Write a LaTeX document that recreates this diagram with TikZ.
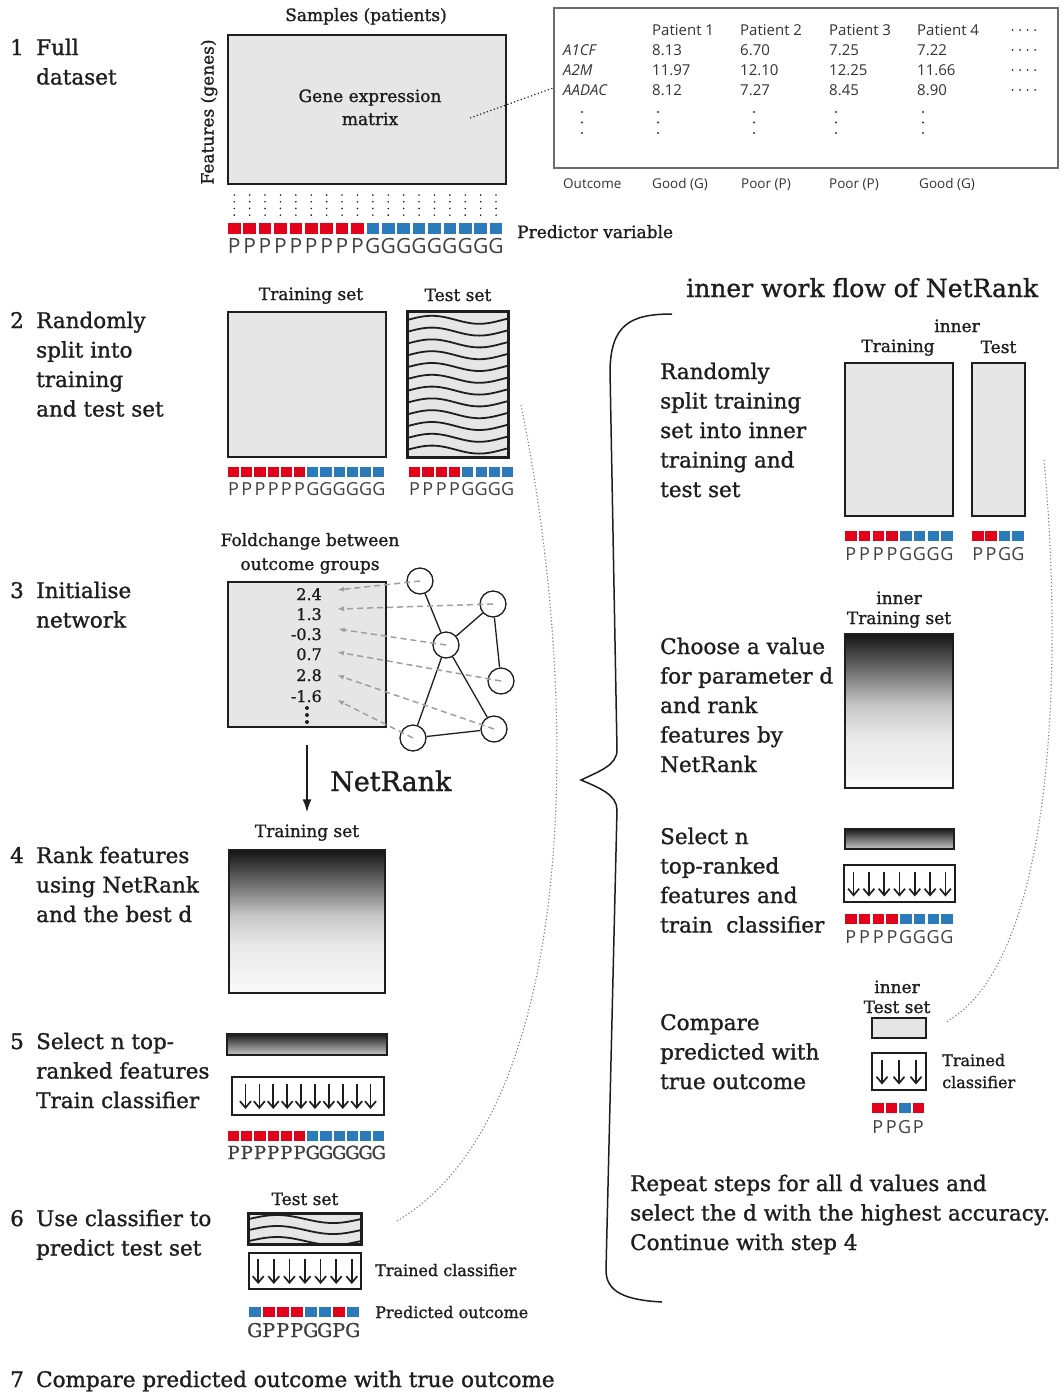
\documentclass[tikz,border=0pt]{standalone}
\usepackage{fontspec}
\setmainfont{DejaVu Serif}[FakeBold=1.2]
\newfontfamily\sansf{Open Sans}
\usetikzlibrary{arrows.meta}

\definecolor{pred}{HTML}{E2001A}
\definecolor{pblue}{HTML}{2B7BBA}
\definecolor{boxgray}{HTML}{E6E6E6}
\definecolor{inkc}{HTML}{1E1E1E}
\definecolor{tabgray}{HTML}{333333}
\colorlet{colR}{pred}
\colorlet{colB}{pblue}

% dark-at-top ranking gradients (path spans 25bp..75bp)
\pgfdeclareverticalshading{rankshade}{100bp}{color(0bp)=(black!2); color(25bp)=(black!2); color(42bp)=(black!9); color(52bp)=(black!22); color(61bp)=(black!50); color(75bp)=(black!92); color(100bp)=(black!92)}
\pgfdeclareverticalshading{barshade}{100bp}{color(0bp)=(black!22); color(25bp)=(black!22); color(50bp)=(black!55); color(75bp)=(black!90); color(100bp)=(black!90)}

\newcommand{\lns}[1]{\begin{tabular}[t]{@{}l@{}}#1\end{tabular}}
\newcommand{\clns}[1]{\begin{tabular}[t]{@{}c@{}}#1\end{tabular}}

% row of outcome squares with their letters
% #1 prefix, #2 x0, #3 y of squares, #4 pitch, #5 size, #6 letter baseline, #7 font, #8 list colour/letter
\newcommand{\outrow}[8]{%
  \foreach \sqc/\sql [count=\i from 0] in {#8} {
    \fill[col\sqc] ({#2+\i*#4},#3) rectangle ++(#5,{0.9*#5});
    \node[font={#7}, text=inkc!85, anchor=base, inner sep=0] (#1\i) at ({#2+\i*#4+#5/2},#6) {\sql};
  }}

% down arrows of a trained classifier: #1 centre x, #2 centre y, #3 count, #4 pitch
\newcommand{\clsarrows}[4]{%
  \foreach \i in {1,...,#3}
    \draw[clsarrow] ({#1+(\i-(#3+1)/2)*#4},{#2-12.5}) -- ({#1+(\i-(#3+1)/2)*#4},{#2+12.5});
}

% horizontal row of dots: #1 x0, #2 y, #3 count, #4 pitch, #5 radius
\newcommand{\dotrow}[5]{%
  \foreach \i in {1,...,#3} \fill[tabgray] ({#1+(\i-1)*#4},#2) circle (#5);
}

\begin{document}
\begin{tikzpicture}[x=1pt,y=-1pt,
  steptext/.style={anchor=base west, inner sep=0, text=inkc, font=\fontsize{21.5}{29.5}\selectfont},
  lbl/.style={anchor=base, inner sep=0, text=inkc, font=\fontsize{17}{23}\selectfont},
  lbll/.style={anchor=base west, inner sep=0, text=inkc, font=\fontsize{16}{22}\selectfont},
  tabtxt/.style={anchor=base west, inner sep=0, text=tabgray, font=\sansf\fontsize{15}{15}\selectfont},
  outtxt/.style={anchor=base west, inner sep=0, text=tabgray, font=\sansf\fontsize{13.5}{13.5}\selectfont},
  fcnum/.style={anchor=base east, inner sep=0, text=inkc, font=\fontsize{16}{16}\selectfont},
  graybox/.style={draw=inkc, line width=1.8, fill=boxgray, inner sep=0},
  clsbox/.style={draw=inkc, line width=1.8, fill=white, inner sep=0},
  gradbox/.style={draw=inkc, line width=1.8, shading=rankshade, inner sep=0},
  barbox/.style={draw=inkc, line width=1.8, shading=barshade, inner sep=0},
  clsarrow/.style={draw=inkc, line width=1.7, -{Straight Barb[length=6.5pt,width=11pt]}},
  netnode/.style={circle, draw=inkc, line width=1.3, minimum size=26, inner sep=0},
  netedge/.style={draw=inkc, line width=1.3},
  fcarrow/.style={draw=gray!75, line width=1.5, dash pattern=on 6pt off 4pt, -{Latex[length=7pt,width=5pt]}},
  linkdots/.style={draw=gray, line width=1.1, dash pattern=on 1.2pt off 2.2pt},
  wave/.style={draw=inkc, line width=1.8}
]
\fill[white] (0,0) rectangle (1063,1393);
\useasboundingbox (0,0) rectangle (1063,1393);

% ---------------- step 1: full dataset ----------------
\node[steptext] (num1) at (10,55) {1};
\node[steptext] (st1) at (36,55) {\lns{Full\\dataset}};
\node[lbl] (lsamp) at (366,21) {Samples (patients)};
\node[graybox, minimum width=278, minimum height=149] (mat) at (367,109.5) {};
\node[lbl] (lmat) at (370,102) {\clns{Gene expression\\matrix}};
\node[lbl, rotate=90, anchor=center] (lfeat) at (209,112) {Features (genes)};
\foreach \i in {0,...,17} \foreach \j in {0,...,3}
  \fill[inkc] ({234.25+\i*15.4},{195+\j*6.7}) circle (0.9);
\outrow{o1-}{228}{223}{15.4}{12.5}{253}{\sansf\fontsize{21}{21}\selectfont}{R/P,R/P,R/P,R/P,R/P,R/P,R/P,R/P,R/P,B/G,B/G,B/G,B/G,B/G,B/G,B/G,B/G,B/G}
\node[steptext, font=\fontsize{17}{23}\selectfont] (lpred) at (517,238) {Predictor variable};

% data table
\node[draw=gray!85!black, line width=1.8, minimum width=504, minimum height=160, inner sep=0] (tab) at (806,88) {};
\coordinate (mlink) at (470,118);
\draw[inkc, line width=1.2, dash pattern=on 1.2pt off 2.4pt] (mlink) -- (tab.west);
\node[tabtxt] (h1) at (652,35) {Patient 1};
\node[tabtxt] (h2) at (740,35) {Patient 2};
\node[tabtxt] (h3) at (829,35) {Patient 3};
\node[tabtxt] (h4) at (917,35) {Patient 4};
\node[tabtxt] (g1) at (563,55) {\itshape A1CF};
\node[tabtxt] (v11) at (652,55) {8.13};
\node[tabtxt] (v12) at (740,55) {6.70};
\node[tabtxt] (v13) at (829,55) {7.25};
\node[tabtxt] (v14) at (917,55) {7.22};
\node[tabtxt] (g2) at (563,75) {\itshape A2M};
\node[tabtxt] (v21) at (652,75) {11.97};
\node[tabtxt] (v22) at (740,75) {12.10};
\node[tabtxt] (v23) at (829,75) {12.25};
\node[tabtxt] (v24) at (917,75) {11.66};
\node[tabtxt] (g3) at (563,95) {\itshape AADAC};
\node[tabtxt] (v31) at (652,95) {8.12};
\node[tabtxt] (v32) at (740,95) {7.27};
\node[tabtxt] (v33) at (829,95) {8.45};
\node[tabtxt] (v34) at (917,95) {8.90};
\foreach \cy in {30,50,70,90} \dotrow{1012.5}{\cy}{4}{7.5}{1};
\foreach \cx in {582,658,754,836,923} \foreach \cy in {112,122.5,133}
  \fill[tabgray] (\cx,\cy) circle (1.1);
\node[outtxt] (oc0) at (563,188) {Outcome};
\node[outtxt] (oc1) at (652,188) {Good (G)};
\node[outtxt] (oc2) at (741,188) {Poor (P)};
\node[outtxt] (oc3) at (829,188) {Poor (P)};
\node[outtxt] (oc4) at (919,188) {Good (G)};

% ---------------- step 2: split ----------------
\node[steptext] (num2) at (10,328) {2};
\node[steptext] (st2) at (36,328) {\lns{Randomly\\split into\\training\\and test set}};
\node[lbl] (ltr2) at (311,300) {Training set};
\node[lbl] (lte2) at (458,301) {Test set};
\node[graybox, minimum width=158, minimum height=145] (tr2) at (307,384.5) {};
\node[graybox, minimum width=100, minimum height=145] (te2) at (458,384.5) {};
\begin{scope}
  \clip (te2.south west) rectangle (te2.north east);
  \foreach \k in {0,...,12}
    \draw[wave] plot[domain=408:508, samples=40, smooth] (\x,{308+\k*11.8-4*sin(3.79*(\x-408))});
\end{scope}
\draw[inkc, line width=1.8] (te2.south west) rectangle (te2.north east);
\outrow{o2a-}{228}{467}{13.2}{11.2}{495}{\sansf\fontsize{18}{18}\selectfont}{R/P,R/P,R/P,R/P,R/P,R/P,B/G,B/G,B/G,B/G,B/G,B/G}
\outrow{o2b-}{409}{467}{13.3}{11.2}{495}{\sansf\fontsize{18}{18}\selectfont}{R/P,R/P,R/P,R/P,B/G,B/G,B/G,B/G}

% ---------------- step 3: network ----------------
\node[steptext] (num3) at (10,598) {3};
\node[steptext] (st3) at (36,598) {\lns{Initialise\\network}};
\node[lbl, font=\fontsize{17}{24}\selectfont] (lfc) at (310,546) {\clns{Foldchange between\\outcome groups}};
\node[graybox, minimum width=158, minimum height=145] (fold) at (307,654.5) {};
\node[fcnum] (fc1) at (322,600) {2.4};
\node[fcnum] (fc2) at (322,620) {1.3};
\node[fcnum] (fc3) at (322,640) {-0.3};
\node[fcnum] (fc4) at (322,660) {0.7};
\node[fcnum] (fc5) at (322,681) {2.8};
\node[fcnum] (fc6) at (322,702) {-1.6};
\foreach \cy in {708,715,722} \fill[inkc] (307,\cy) circle (2);
\node[netnode] (n1) at (420,581) {};
\node[netnode] (n2) at (493,604) {};
\node[netnode] (n3) at (446,645) {};
\node[netnode] (n4) at (501,681) {};
\node[netnode] (n5) at (494,729) {};
\node[netnode] (n6) at (413,738) {};
\draw[netedge] (n1) -- (n3);
\draw[netedge] (n3) -- (n2);
\draw[netedge] (n2) -- (n4);
\draw[netedge] (n3) -- (n6);
\draw[netedge] (n3) -- (n5);
\draw[netedge] (n6) -- (n5);
\coordinate (t1) at (337,590);
\coordinate (t2) at (337,609);
\coordinate (t3) at (338,629);
\coordinate (t4) at (337,652);
\coordinate (t5) at (337,675);
\coordinate (t6) at (337,700);
\draw[fcarrow] (n1.center) -- (t1);
\draw[fcarrow] (n2.center) -- (t2);
\draw[fcarrow] (n3.center) -- (t3);
\draw[fcarrow] (n4.center) -- (t4);
\draw[fcarrow] (n5.center) -- (t5);
\draw[fcarrow] (n6.center) -- (t6);
\node[steptext, font=\fontsize{27}{30}\selectfont] (lnr) at (330,791) {NetRank};

% ---------------- step 4: rank ----------------
\node[steptext] (num4) at (10,863) {4};
\node[steptext] (st4) at (36,863) {\lns{Rank features\\using NetRank\\and the best d}};
\node[lbl] (ltr4) at (307,837) {Training set};
\node[gradbox, minimum width=156, minimum height=143] (rk4) at (307,921.5) {};
\draw[inkc, line width=1.5, -{Latex[length=13pt,width=9pt]}] ([yshift=-17pt]fold.south) -- ([yshift=12pt]ltr4.north);

% ---------------- step 5: select & train ----------------
\node[steptext] (num5) at (10,1049) {5};
\node[steptext] (st5) at (36,1049) {\lns{Select n top-\\ranked features\\Train classifier}};
\node[barbox, minimum width=160, minimum height=21] (bar5) at (307,1044.5) {};
\node[clsbox, minimum width=152, minimum height=38] (cls5) at (308,1096) {};
\clsarrows{308}{1096.5}{10}{13.9}
\outrow{o5-}{228}{1131}{13.2}{11.2}{1159}{\fontsize{18}{18}\selectfont}{R/P,R/P,R/P,R/P,R/P,R/P,B/G,B/G,B/G,B/G,B/G,B/G}

% ---------------- step 6: predict ----------------
\node[steptext] (num6) at (10,1226) {6};
\node[steptext] (st6) at (36,1226) {\lns{Use classifier to\\predict test set}};
\node[lbl] (lte6) at (305,1205) {Test set};
\node[graybox, minimum width=112, minimum height=30] (te6) at (305,1229) {};
\begin{scope}
  \clip (te6.south west) rectangle (te6.north east);
  \foreach \k in {0,...,4}
    \draw[wave] plot[domain=249:361, samples=40, smooth] (\x,{1208+\k*11-4*sin(3.21*(\x-249))});
\end{scope}
\draw[inkc, line width=1.8] (te6.south west) rectangle (te6.north east);
\node[clsbox, minimum width=112, minimum height=36] (cls6) at (305,1271) {};
\clsarrows{305}{1271.5}{7}{15.6}
\node[lbll] (ltc6) at (375,1276) {Trained classifier};
\outrow{o6-}{249}{1307}{14}{11.5}{1337}{\fontsize{19}{19}\selectfont}{B/G,R/P,R/P,R/P,B/G,B/G,R/P,B/G}
\node[lbll] (lpo6) at (375,1318) {Predicted outcome};

% ---------------- step 7 ----------------
\node[steptext] (num7) at (10,1387) {7};
\node[steptext] (st7) at (36,1387) {Compare predicted outcome with true outcome};

% ---------------- inner work flow ----------------
\node[steptext, font=\fontsize{25}{30}\selectfont] (ltitle) at (686,297) {inner work flow of NetRank};
\draw[inkc, line width=1.5] (672,314) .. controls (630,314) and (611,325) .. (610,370)
  -- (617,750) .. controls (617,765) and (600,771) .. (581,780)
  .. controls (600,788) and (617,795) .. (617,810)
  -- (606,1270) .. controls (606,1292) and (625,1300) .. (662,1302);

\node[steptext] (r1) at (660,379) {\lns{Randomly\\split training\\set into inner\\training and\\test set}};
\node[lbl] (li1) at (957,332) {inner};
\node[lbl] (li1a) at (898,352) {Training};
\node[lbl] (li1b) at (998.5,353) {Test};
\node[graybox, minimum width=108, minimum height=153] (itr) at (899,439.5) {};
\node[graybox, minimum width=53, minimum height=153] (ite) at (998.5,439.5) {};
\outrow{i1a-}{845}{531}{13.75}{11.5}{560}{\sansf\fontsize{18}{18}\selectfont}{R/P,R/P,R/P,R/P,B/G,B/G,B/G,B/G}
\outrow{i1b-}{972}{531}{13.4}{11.5}{560}{\sansf\fontsize{18}{18}\selectfont}{R/P,R/P,B/G,B/G}

\node[steptext] (r2) at (660,654) {\lns{Choose a value\\for parameter d\\and rank\\features by\\NetRank}};
\node[lbl] (li2) at (899,604) {\clns{inner\\[-3pt]Training set}};
\node[gradbox, minimum width=108, minimum height=154] (irk) at (899,711) {};

\node[steptext] (r3) at (660,844) {\lns{Select n\\top-ranked\\features and\\train\ \ classifier}};
\node[barbox, minimum width=109, minimum height=20] (ibar) at (899.5,839) {};
\node[clsbox, minimum width=111, minimum height=37] (icls) at (899.5,883.5) {};
\clsarrows{899.5}{884}{7}{15.3}
\outrow{i3-}{845}{914}{13.75}{11.5}{943}{\sansf\fontsize{18}{18}\selectfont}{R/P,R/P,R/P,R/P,B/G,B/G,B/G,B/G}

\node[steptext] (r4) at (660,1030) {\lns{Compare\\predicted with\\true outcome}};
\node[lbl] (li4) at (897,993) {\clns{inner\\[-3pt]Test set}};
\node[graybox, minimum width=54, minimum height=20] (ite4) at (899,1028) {};
\node[clsbox, minimum width=54, minimum height=37] (icls4) at (899,1071.5) {};
\clsarrows{899}{1072}{3}{17}
\node[lbll] (ltc4) at (942,1066) {\lns{Trained\\classifier}};
\outrow{i4-}{872}{1103}{13.5}{11.5}{1133}{\sansf\fontsize{18}{18}\selectfont}{R/P,R/P,B/G,R/P}

\node[steptext] (r5) at (630,1191) {\lns{Repeat steps for all d values and\\select the d with the highest accuracy.\\Continue with step 4}};

% dotted links between test sets
\coordinate (ca) at (521,405);
\coordinate (cb) at (395,1222);
\draw[linkdots] (ca) .. controls (585,720) and (575,1120) .. (cb);
\coordinate (cc) at (1044,460);
\coordinate (cd) at (946,1022);
\draw[linkdots] (cc) .. controls (1062,650) and (1058,960) .. (cd);
\end{tikzpicture}
\end{document}
